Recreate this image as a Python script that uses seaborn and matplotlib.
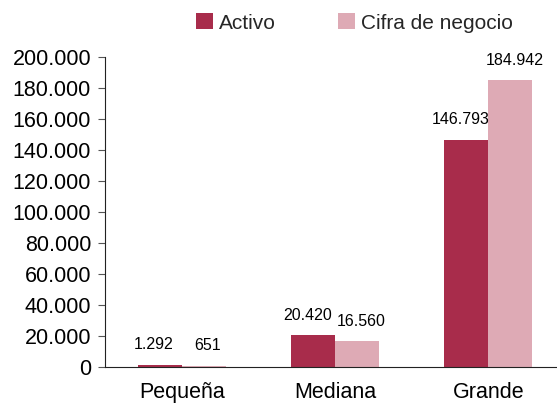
import pandas as pd
import numpy as np
import matplotlib
matplotlib.use('Agg')
import matplotlib.pyplot as plt
import seaborn as sns

# Data
categorias = ['Pequeña', 'Mediana', 'Grande']
activo = [1292, 20420, 146793]
cifra_negocio = [651, 16560, 184942]
series = ['Activo', 'Cifra de negocio']
colores = ['#A82C4B', '#DEAAB5']

df = pd.DataFrame({
    'tamano': categorias * 2,
    'serie': [series[0]] * 3 + [series[1]] * 3,
    'valor': activo + cifra_negocio,
})

sns.set_style('white')
plt.rcParams['font.family'] = ['Liberation Sans', 'DejaVu Sans']

fig = plt.figure(figsize=(5.57, 4.05), dpi=100)
ax = fig.add_axes([0.1885, 0.094, 0.826, 0.765])

sns.barplot(data=df, x='tamano', y='valor', hue='serie', palette=colores,
            width=0.575, saturation=1, linewidth=0, ax=ax, legend=True)

fmt = lambda v: f'{int(v):,}'.replace(',', '.')

# labels sit a little apart, like in the original (left for Activo, right for Cifra)
for cont, dx in zip(ax.containers, [-4, 3]):
    for rect in cont:
        h = rect.get_height()
        ax.annotate(fmt(h), (rect.get_x() + rect.get_width() / 2, h),
                    xytext=(dx, 14.4), textcoords='offset points',
                    ha='center', va='center', fontsize=11.5, color='black')

ax.set_ylim(0, 200000)
ax.set_xlim(-0.5, 2.5)
ax.set_yticks(np.arange(0, 200001, 20000))
ax.set_yticklabels([fmt(v) for v in np.arange(0, 200001, 20000)], fontsize=15.5, color='black')
ax.set_xticks(range(3))
ax.set_xticklabels(categorias, fontsize=15.5, color='black')
ax.set_xticks([-0.5, 0.5, 1.5, 2.5], minor=True)
ax.tick_params(axis='x', which='major', length=0, pad=11)
ax.tick_params(axis='x', which='minor', length=5, width=0.8, color='#555555', direction='out')
ax.tick_params(axis='y', length=5, width=0.8, color='#555555', direction='out', left=True, pad=5)
ax.set_xlabel('')
ax.set_ylabel('')

for s in ['top', 'right']:
    ax.spines[s].set_visible(False)
for s in ['left', 'bottom']:
    ax.spines[s].set_color('#222222')
    ax.spines[s].set_linewidth(0.8)

handles, labels = ax.get_legend_handles_labels()
ax.get_legend().remove()
fig.legend(handles, labels, loc='center left', bbox_to_anchor=(0.352, 0.943), ncol=2,
           frameon=False, fontsize=15, handlelength=0.8, handleheight=0.8,
           handletextpad=0.3, columnspacing=3.0, borderaxespad=0, borderpad=0)

fig.savefig('out.png', dpi=100)
